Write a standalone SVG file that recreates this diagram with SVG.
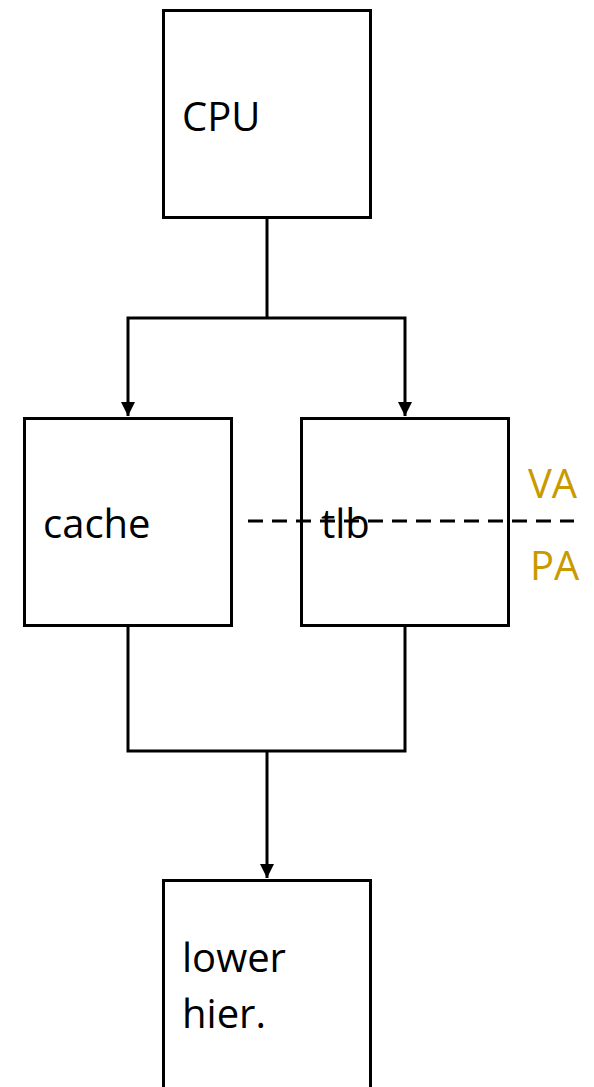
<svg xmlns="http://www.w3.org/2000/svg" width="594" height="1087" viewBox="0 0 594 1087">
<style>
.box{fill:#fff;stroke:#000;stroke-width:3}
.lbl{font-family:"Open Sans","Liberation Sans",sans-serif;font-size:40px;fill:#000}
.ann{font-family:"Open Sans","Liberation Sans",sans-serif;font-size:40px;fill:#C99A00}
.wire{fill:none;stroke:#000;stroke-width:3}
</style>
<defs>
<marker id="ah" viewBox="0 0 10 10" refX="10" refY="5" markerWidth="4.8" markerHeight="4.8" markerUnits="strokeWidth" orient="auto">
<path d="M0,0 L10,5 L0,10 Z" fill="#000"/>
</marker>
</defs>
<rect width="594" height="1087" fill="#fff"/>
<g id="cpu"><rect class="box" x="163.5" y="10.5" width="207" height="207"/><text class="lbl" x="182" y="131">CPU</text></g>
<g id="cache"><rect class="box" x="24.5" y="418.5" width="207" height="207"/><text class="lbl" x="43" y="538">cache</text></g>
<g id="tlb"><rect class="box" x="301.5" y="418.5" width="207" height="207"/><text class="lbl" x="321" y="538">tlb</text></g>
<g id="lower"><rect class="box" x="163.5" y="880.5" width="207" height="210"/><text class="lbl" x="182" y="972">lower</text><text class="lbl" x="182" y="1028">hier.</text></g>
<g id="connectors">
<path class="wire" d="M267,217 V318"/>
<path class="wire" d="M267,318 H128 V416" marker-end="url(#ah)"/>
<path class="wire" d="M267,318 H405 V416" marker-end="url(#ah)"/>
<path class="wire" d="M128,625 V751 H405 V625"/>
<path class="wire" d="M267,751 V878" marker-end="url(#ah)"/>
<path fill="none" stroke="#000" stroke-width="3" stroke-dasharray="15 9" d="M248,521 H574"/>
</g>
<g id="annotations"><text class="ann" x="528" y="498">VA</text><text class="ann" x="530" y="580">PA</text></g>
</svg>
